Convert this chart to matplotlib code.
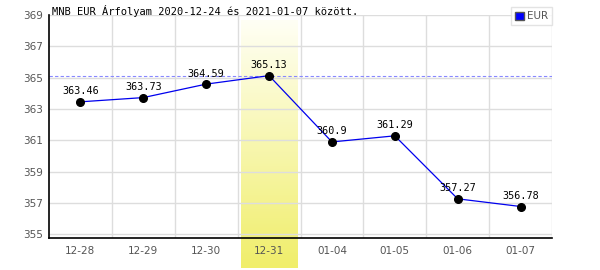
import matplotlib.pyplot as plt
import numpy as np
from matplotlib.patches import Patch

# datos
fechas = ['12-28', '12-29', '12-30', '12-31', '01-04', '01-05', '01-06', '01-07']
eur = [363.46, 363.73, 364.59, 365.13, 360.9, 361.29, 357.27, 356.78]
y_ticks = [355, 357, 359, 361, 363, 365, 367, 369]
titulo = "MNB EUR Árfolyam 2020-12-24 és 2021-01-07 között."
idx_max = 3

fig = plt.figure(figsize=(6, 2.7), dpi=100)
ax = fig.add_axes([49 / 600, 1 - 238 / 270, (552 - 49) / 600, (238 - 15) / 270])

x = np.arange(len(fechas))
ax.set_xlim(-0.5, len(fechas) - 0.5)
ax.set_ylim(354.77, 369)

# franja amarilla con degradado
grad = np.linspace(0, 1, 256).reshape(-1, 1)
from matplotlib.colors import LinearSegmentedColormap
cmap = LinearSegmentedColormap.from_list('am', ['#fffff5', '#f0ee6a'])
ax.imshow(grad, cmap=cmap, aspect='auto', origin='upper',
          extent=(idx_max - 0.45, idx_max + 0.45, 352.88, 368.7),
          clip_on=False, zorder=0.5)

# rejilla
for yv in y_ticks:
    ax.axhline(yv, color='#dddddd', lw=1, zorder=1)
for xv in np.arange(0.5, len(fechas), 1.0):
    ax.axvline(xv, color='#dddddd', lw=1, zorder=1)

# línea del máximo
ax.axhline(eur[idx_max], color='#8888ff', lw=0.8, ls=(0, (3, 2)), zorder=2)

ax.plot(x, eur, color='#0000ee', lw=0.9, zorder=3)
ax.plot(x, eur, 'o', color='black', ms=5.5, zorder=4)
for xi, v in zip(x, eur):
    ax.annotate(f"{v:g}", (xi, v), xytext=(0, 4), textcoords='offset points',
                ha='center', va='bottom', fontsize=7.3, family='DejaVu Sans Mono',
                zorder=5)

ax.set_xticks(x)
ax.set_xticklabels(fechas)
ax.set_yticks(y_ticks)
ax.tick_params(length=0, labelsize=7.5, labelcolor='#555555', pad=6)
ax.tick_params(axis='y', pad=4)

for s in ['top', 'right']:
    ax.spines[s].set_visible(False)
ax.spines['left'].set_linewidth(1.2)
ax.spines['bottom'].set_linewidth(1.2)

fig.text(52 / 600, 1 - 11 / 270, titulo, fontsize=7.5, family='DejaVu Sans Mono',
         va='center', ha='left')

leg = ax.legend(handles=[Patch(facecolor='#0000ff', edgecolor='#555555', label='EUR')],
                loc='upper right', bbox_to_anchor=(552 / 600, 1 - 7 / 270),
                bbox_transform=fig.transFigure, fancybox=False, fontsize=7.5,
                handlelength=0.8, handleheight=0.8, handletextpad=0.3,
                borderpad=0.4, borderaxespad=0)
leg.get_frame().set_edgecolor('#dddddd')
leg.get_frame().set_linewidth(1)
for t in leg.get_texts():
    t.set_color('#555555')

fig.savefig('out.png', dpi=100)
